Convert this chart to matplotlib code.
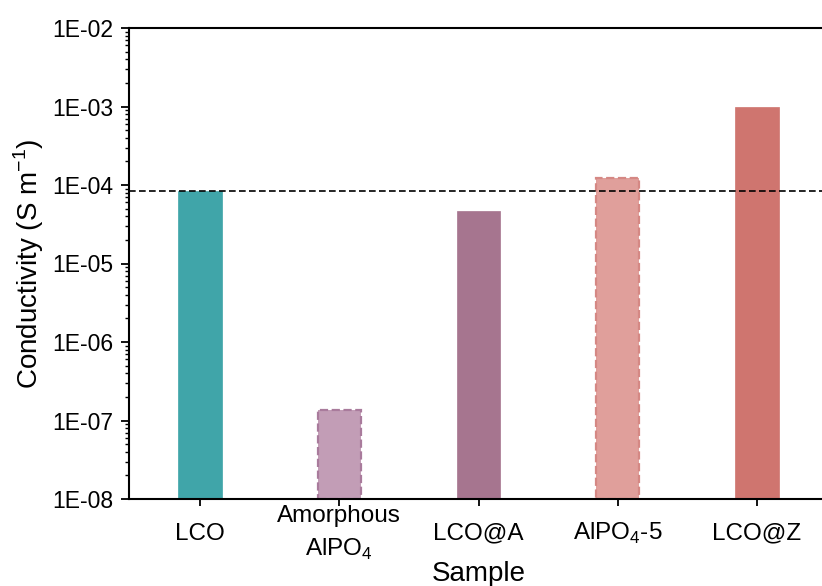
import numpy as np
import matplotlib
matplotlib.use("Agg")
from matplotlib import pyplot as plt
from matplotlib.ticker import FuncFormatter, LogLocator, FixedLocator

plt.rcParams['font.family'] = ['Liberation Sans', 'DejaVu Sans']
plt.rcParams['mathtext.fontset'] = 'custom'
plt.rcParams['mathtext.rm'] = 'Liberation Sans'

samples = ['LCO', 'Amorphous\nAlPO$_4$', 'LCO@A', 'AlPO$_4$-5', 'LCO@Z']
conductivity = [8.5e-5, 1.28e-7, 4.6e-5, 1.22e-4, 9.8e-4]
face_colors = ['#40a5a9', '#c29db6', '#a6758f', '#e09f9b', '#cf756f']
edge_colors = ['#40a5a9', '#a97b9c', '#a6758f', '#d58884', '#cf756f']
edge_styles = ['solid', 'dashed', 'solid', 'dashed', 'solid']

fig = plt.figure(figsize=(8.22, 5.86), dpi=100)
ax = fig.add_axes([129/822, 87/586, 699/822, 471/586])

x = np.arange(len(samples))
for xi, val, fc, ec, ls in zip(x, conductivity, face_colors, edge_colors, edge_styles):
    ax.bar(xi, val, width=0.31, bottom=1e-8, color=fc, edgecolor=ec,
           linestyle=ls, linewidth=1.6 if ls == 'dashed' else 0.5, zorder=2)

ax.axhline(conductivity[0], color='black', linestyle=(0, (4, 2)), linewidth=1.2, zorder=3)

ax.set_yscale('log')
ax.set_ylim(1e-8, 1e-2)
ax.set_xlim(-0.51, 4.51)
ax.yaxis.set_major_locator(FixedLocator([10.0**k for k in range(-8, -1)]))
ax.yaxis.set_minor_locator(LogLocator(base=10, subs=np.arange(2, 10)))
ax.yaxis.set_major_formatter(FuncFormatter(lambda v, p: '1E-%02d' % round(-np.log10(v))))
ax.yaxis.set_minor_formatter(FuncFormatter(lambda v, p: ''))

ax.set_xticks(x)
ax.set_xticklabels(samples, fontsize=17.5, linespacing=1.5, va='center')
ax.tick_params(axis='y', which='major', direction='out', length=6, width=1.3,
               labelsize=16.5, pad=5)
ax.tick_params(axis='y', which='minor', direction='out', length=3, width=1.0)
ax.tick_params(axis='x', which='major', direction='out', length=5, width=1.3, pad=20)

for s in ax.spines.values():
    s.set_linewidth(1.5)

ax.set_ylabel('Conductivity (S m$^{-1}$)', fontsize=20, labelpad=5)
ax.set_xlabel('Sample', fontsize=20, labelpad=-1)

fig.savefig('out.png', dpi=100)
